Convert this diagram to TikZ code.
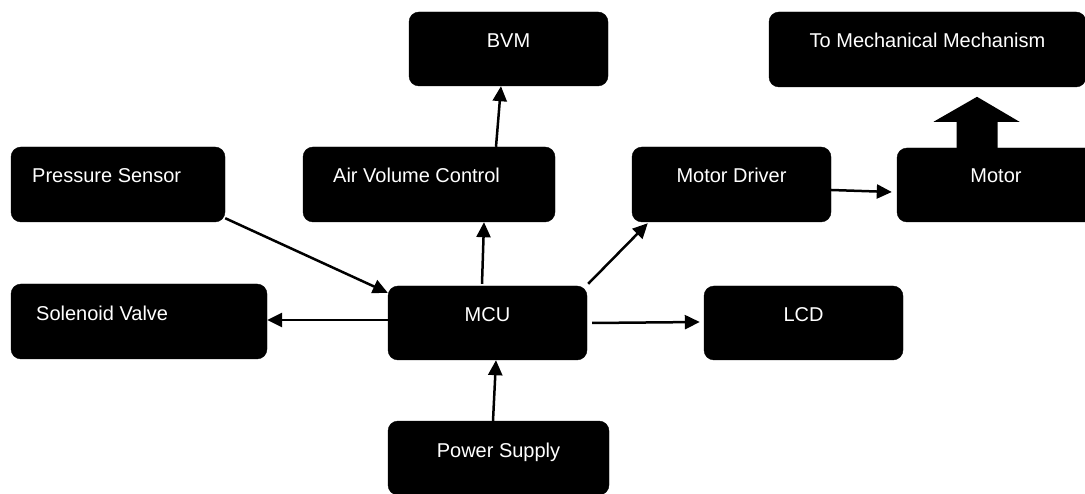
\documentclass[tikz,border=0pt]{standalone}
\usepackage{fontspec}
\setmainfont{Liberation Sans}
\usetikzlibrary{arrows.meta,calc}
\tikzset{
  blk/.style={draw=black, fill=black, rounded corners=10pt, inner sep=0pt},
  lbl/.style={text=white, inner sep=0pt, font=\fontsize{20}{24}\selectfont},
  arr/.style={draw=black, line width=2.5pt, -{Triangle[length=15pt,width=14pt]}},
}
\begin{document}
\begin{tikzpicture}[x=1pt,y=-1pt]
\useasboundingbox (0,0) rectangle (1085,494);
% boxes
\node[blk, minimum width=199pt, minimum height=74pt] (bvm) at (508.5,49) {};
\node[blk, minimum width=317pt, minimum height=75pt] (tmm) at (927.5,49.5) {};
\node[blk, minimum width=214pt, minimum height=75pt] (ps) at (118,184.5) {};
\node[blk, minimum width=252pt, minimum height=75pt] (avc) at (429,184.5) {};
\node[blk, minimum width=199pt, minimum height=75pt] (md) at (731.5,184.5) {};
\node[blk, minimum width=198pt, minimum height=74pt] (motor) at (996,185) {};
\node[blk, minimum width=256pt, minimum height=75pt] (sv) at (139,321.5) {};
\node[blk, minimum width=199pt, minimum height=74pt] (mcu) at (487.5,323) {};
\node[blk, minimum width=199pt, minimum height=74pt] (lcd) at (803.5,323) {};
\node[blk, minimum width=221pt, minimum height=74pt] (pws) at (498.5,458) {};
% labels
\node[lbl, anchor=base] (tbvm) at (508.5,48) {BVM};
\node[lbl, anchor=base] (ttmm) at (927.5,48) {To Mechanical Mechanism};
\node[lbl, anchor=base west] (tps) at (32,183) {Pressure Sensor};
\node[lbl, anchor=base west] (tavc) at (333,183) {Air Volume Control};
\node[lbl, anchor=base] (tmd) at (731.5,183) {Motor Driver};
\node[lbl, anchor=base] (tmotor) at (996,183) {Motor};
\node[lbl, anchor=base west] (tsv) at (36,321) {Solenoid Valve};
\node[lbl, anchor=base] (tmcu) at (487.5,322) {MCU};
\node[lbl, anchor=base] (tlcd) at (803.5,322) {LCD};
\node[lbl, anchor=base] (tpws) at (498.5,457) {Power Supply};
% connectors
\draw[arr] ([xshift=67pt]avc.north) -- ([xshift=-7.5pt]bvm.south);
\draw[arr] ([xshift=-5.5pt,yshift=2pt]mcu.north) -- ([xshift=55pt]avc.south);
\draw[arr] ([yshift=4pt]ps.south east) -- ([yshift=-7pt]mcu.north west);
\draw[arr] ([yshift=3pt]mcu.west) -- ([yshift=1.5pt]sv.east);
\draw[arr] ([xshift=1pt,yshift=2pt]mcu.north east) -- ([xshift=16pt,yshift=-1pt]md.south west);
\draw[arr] ([yshift=-5.5pt]md.east) -- ([xshift=-5pt,yshift=-7pt]motor.west);
\draw[arr] ([xshift=5pt]mcu.east) -- ([xshift=-4pt,yshift=1pt]lcd.west);
\draw[arr] ([xshift=-5.5pt]pws.north) -- ([xshift=8.5pt]mcu.south);
% block arrow motor -> mechanism
\coordinate (ba) at ([xshift=-19pt]motor.north);
\fill[black] (ba) ++(-20.5,0) -- ++(0,-26) -- ++(-23,0) -- ++(43.5,-25) -- ++(42.5,25) -- ++(-22,0) -- ++(0,26) -- cycle;
\end{tikzpicture}
\end{document}
